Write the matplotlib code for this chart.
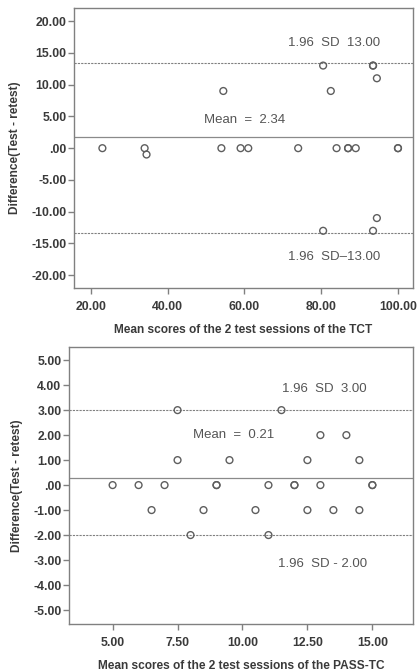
import matplotlib.pyplot as plt

plt.rcParams['font.family'] = ['Liberation Sans', 'DejaVu Sans']

# TCT: mean of the two sessions vs difference
tct_mean = [23, 34, 34.5, 54.5, 54, 59, 61, 74, 80.5, 82.5, 84, 87, 87, 89, 93.5, 93.5,
            94.5, 100, 100, 80.5, 93.5, 94.5]
tct_diff = [0, 0, -1, 9, 0, 0, 0, 0, 13, 9, 0, 0, 0, 0, 13, 13,
            11, 0, 0, -13, -13, -11]
tct_lines = {'mean': 1.75, 'upper': 13.4, 'lower': -13.3}

# PASS-TC
pass_mean = [7.5, 11.5, 13, 14, 7.5, 9.5, 12.5, 14.5,
             5, 6, 7, 9, 9, 11, 12, 12, 13, 15, 15,
             6.5, 8.5, 10.5, 12.5, 13.5, 14.5, 8, 11]
pass_diff = [3, 3, 2, 2, 1, 1, 1, 1,
             0, 0, 0, 0, 0, 0, 0, 0, 0, 0, 0,
             -1, -1, -1, -1, -1, -1, -2, -2]
pass_lines = {'mean': 0.27, 'upper': 3.0, 'lower': -2.0}

fig = plt.figure(figsize=(4.18, 6.72), dpi=100)
grey = '#808080'
txt = '#555555'
dark = '#3a3a3a'


def style(ax):
    for s in ax.spines.values():
        s.set_color(grey)
        s.set_linewidth(1.0)
    ax.tick_params(direction='out', length=4, width=1.0, color=grey,
                   labelsize=8.8, labelcolor=dark)
    ax.tick_params(axis='x', pad=5)
    ax.tick_params(axis='y', pad=1.5)
    for lab in ax.get_xticklabels() + ax.get_yticklabels():
        lab.set_fontweight('bold')


ax1 = fig.add_axes([0.177, 0.571, 0.810, 0.417])
ax1.scatter(tct_mean, tct_diff, s=24, facecolors='none', edgecolors='#5e5e5e', linewidths=1.0, zorder=3)
ax1.axhline(tct_lines['mean'], color='#8a8a8a', lw=0.9)
ax1.axhline(tct_lines['upper'], color=grey, lw=0.8, ls=(0, (2, 1)))
ax1.axhline(tct_lines['lower'], color=grey, lw=0.8, ls=(0, (2, 1)))
ax1.set_xlim(15.6, 103.8)
ax1.set_ylim(-22.05, 22.05)
ax1.set_xticks([20, 40, 60, 80, 100])
ax1.set_xticklabels(['20.00', '40.00', '60.00', '80.00', '100.00'])
yt = [20, 15, 10, 5, 0, -5, -10, -15, -20]
ax1.set_yticks(yt)
ax1.set_yticklabels(['%.2f' % v if v != 0 else '.00' for v in yt])
ax1.text(83.4, 16.5, '1.96  SD  13.00', ha='center', va='center', fontsize=9.5, color=txt)
ax1.text(60.0, 4.5, 'Mean  =  2.34', ha='center', va='center', fontsize=9.5, color=txt)
ax1.text(83.4, -17.2, '1.96  SD\u201313.00', ha='center', va='center', fontsize=9.5, color=txt)
ax1.set_xlabel('Mean scores of the 2 test sessions of the TCT', fontsize=8.6,
               color=dark, fontweight='bold', labelpad=8)
ax1.set_ylabel('Difference(Test - retest)', fontsize=8.6, color=dark,
               fontweight='bold', labelpad=7)
style(ax1)

ax2 = fig.add_axes([0.165, 0.0714, 0.824, 0.412])
ax2.scatter(pass_mean, pass_diff, s=24, facecolors='none', edgecolors='#5e5e5e', linewidths=1.0, zorder=3)
ax2.axhline(pass_lines['mean'], color='#8a8a8a', lw=0.9)
ax2.axhline(pass_lines['upper'], color=grey, lw=0.8, ls=(0, (2, 1)))
ax2.axhline(pass_lines['lower'], color=grey, lw=0.8, ls=(0, (2, 1)))
ax2.set_xlim(3.32, 16.58)
ax2.set_ylim(-5.56, 5.52)
ax2.set_xticks([5, 7.5, 10, 12.5, 15])
ax2.set_xticklabels(['5.00', '7.50', '10.00', '12.50', '15.00'])
yt2 = [5, 4, 3, 2, 1, 0, -1, -2, -3, -4, -5]
ax2.set_yticks(yt2)
ax2.set_yticklabels(['%.2f' % v if v != 0 else '.00' for v in yt2])
ax2.text(13.14, 3.84, '1.96  SD  3.00', ha='center', va='center', fontsize=9.5, color=txt)
ax2.text(9.67, 2.0, 'Mean  =  0.21', ha='center', va='center', fontsize=9.5, color=txt)
ax2.text(13.08, -3.16, '1.96  SD - 2.00', ha='center', va='center', fontsize=9.5, color=txt)
ax2.set_xlabel('Mean scores of the 2 test sessions of the PASS-TC', fontsize=8.6,
               color=dark, fontweight='bold', labelpad=8)
ax2.set_ylabel('Difference(Test - retest)', fontsize=8.6, color=dark,
               fontweight='bold', labelpad=7)
style(ax2)

fig.savefig('out.png', dpi=100)
